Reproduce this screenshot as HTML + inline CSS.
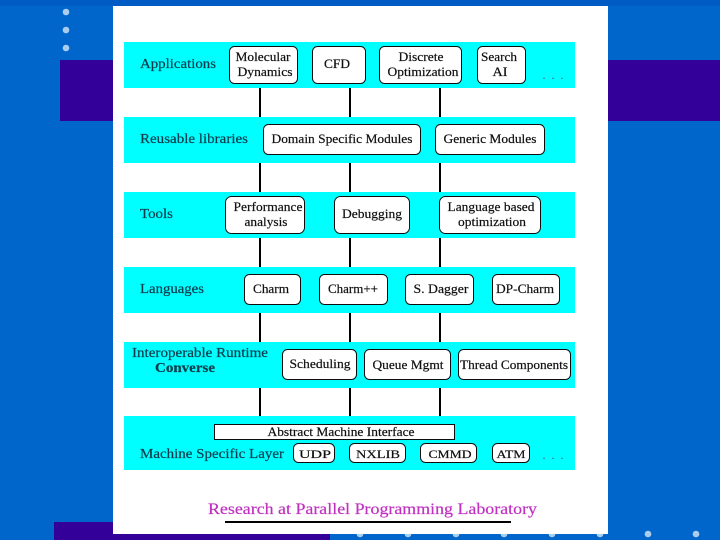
<!DOCTYPE html>
<html><head><meta charset="utf-8"><style>
html,body{margin:0;padding:0;width:720px;height:540px;overflow:hidden;background:#0066cc}
svg{display:block}
text{font-family:"Liberation Serif",serif;font-size:13px;fill:#111;stroke:#111;stroke-width:.2;text-anchor:middle}
.l{text-anchor:start;fill:#0b3b4b;stroke:#0b3b4b;font-size:14px}
.b{fill:#fff;stroke:#111;stroke-width:1}
.band{fill:#00ffff}
.v{stroke:#000;stroke-width:2}
.d{fill:#aaccee}
.g{filter:url(#soft)}
</style></head><body>
<svg width="720" height="540" viewBox="0 0 720 540" xmlns="http://www.w3.org/2000/svg">
<defs><filter id="soft" x="0" y="0" width="100%" height="100%"><feGaussianBlur stdDeviation="0.3"/></filter></defs>
<rect width="720" height="540" fill="#0066cc"/>
<rect width="720" height="6" fill="#005cc4"/>
<rect x="60" y="60" width="660" height="61" fill="#330099"/>
<rect x="54" y="522" width="276" height="18" fill="#330099"/>
<g class="d">
<circle cx="66" cy="12" r="3.300"/><circle cx="66" cy="30" r="3.300"/><circle cx="66" cy="48" r="3.300"/>
<circle cx="360" cy="534" r="3.300"/><circle cx="408" cy="534" r="3.300"/><circle cx="456" cy="534" r="3.300"/><circle cx="504" cy="534" r="3.300"/><circle cx="552" cy="534" r="3.300"/><circle cx="600" cy="534" r="3.300"/><circle cx="648" cy="534" r="3.300"/><circle cx="696" cy="534" r="3.300"/>
</g>
<rect x="113" y="6" width="495" height="528" fill="#fff"/>
<g class="g">
<g class="band">
<rect x="124" y="42" width="451" height="46"/>
<rect x="124" y="117" width="451" height="46"/>
<rect x="124" y="192" width="451" height="46"/>
<rect x="124" y="267" width="451" height="46"/>
<rect x="124" y="342" width="451" height="46"/>
<rect x="124" y="416" width="451" height="54"/>
</g>
<g class="v">
<path d="M260 88V117M350 88V117M440 88V117M260 163V192M350 163V192M440 163V192M260 238V267M350 238V267M440 238V267M260 313V342M350 313V342M440 313V342M260 388V416M350 388V416M440 388V416"/>
</g>
<g class="b">
<rect x="229.500" y="46.500" width="68" height="37" rx="5"/>
<rect x="312.500" y="46.500" width="53" height="37" rx="5"/>
<rect x="379.500" y="46.500" width="82" height="37" rx="5"/>
<rect x="477.500" y="46.500" width="48" height="37" rx="5"/>
<rect x="263.500" y="124.500" width="157" height="30" rx="5"/>
<rect x="435.500" y="124.500" width="109" height="30" rx="5"/>
<rect x="225.500" y="196.500" width="79" height="37" rx="6"/>
<rect x="334.500" y="196.500" width="75" height="37" rx="6"/>
<rect x="439.500" y="196.500" width="101" height="37" rx="6"/>
<rect x="244.500" y="274.500" width="56" height="30" rx="5"/>
<rect x="319.500" y="274.500" width="68" height="30" rx="5"/>
<rect x="405.500" y="274.500" width="68" height="30" rx="5"/>
<rect x="492.500" y="274.500" width="67" height="30" rx="5"/>
<rect x="282.500" y="349.500" width="74" height="30" rx="5"/>
<rect x="364.500" y="349.500" width="86" height="30" rx="5"/>
<rect x="458.500" y="349.500" width="112" height="30" rx="5"/>
<rect x="214.500" y="424.500" width="240" height="15"/>
<rect x="293.500" y="443.500" width="41" height="19" rx="5"/>
<rect x="349.500" y="443.500" width="56" height="19" rx="5"/>
<rect x="420.500" y="443.500" width="56" height="19" rx="5"/>
<rect x="492.500" y="443.500" width="37" height="19" rx="5"/>
</g>
<text class="l" x="140" y="68" textLength="76" lengthAdjust="spacingAndGlyphs">Applications</text>
<text class="l" x="140" y="143" textLength="108" lengthAdjust="spacingAndGlyphs">Reusable libraries</text>
<text class="l" x="140" y="218" textLength="33" lengthAdjust="spacingAndGlyphs">Tools</text>
<text class="l" x="140" y="293" textLength="64" lengthAdjust="spacingAndGlyphs">Languages</text>
<text class="l" x="132" y="357" textLength="136" lengthAdjust="spacingAndGlyphs">Interoperable Runtime</text>
<text class="l" x="155" y="372" textLength="60" lengthAdjust="spacingAndGlyphs" style="font-weight:bold">Converse</text>
<text class="l" x="140" y="458" textLength="144" lengthAdjust="spacingAndGlyphs">Machine Specific Layer</text>
<text x="263" y="61" textLength="55" lengthAdjust="spacingAndGlyphs">Molecular</text>
<text x="265" y="76" textLength="55" lengthAdjust="spacingAndGlyphs">Dynamics</text>
<text x="337" y="68" textLength="26" lengthAdjust="spacingAndGlyphs">CFD</text>
<text x="421" y="61" textLength="45" lengthAdjust="spacingAndGlyphs">Discrete</text>
<text x="423" y="76" textLength="71" lengthAdjust="spacingAndGlyphs">Optimization</text>
<text x="499" y="61" textLength="36" lengthAdjust="spacingAndGlyphs">Search</text>
<text x="500" y="76" textLength="15" lengthAdjust="spacingAndGlyphs">AI</text>
<text x="553" y="79" textLength="21" style="font-size:12px;fill:#456;stroke:none">. . .</text>
<text x="342" y="143" textLength="141" lengthAdjust="spacingAndGlyphs">Domain Specific Modules</text>
<text x="490" y="143" textLength="93" lengthAdjust="spacingAndGlyphs">Generic Modules</text>
<text x="268" y="211" textLength="69" lengthAdjust="spacingAndGlyphs">Performance</text>
<text x="266" y="226" textLength="43" lengthAdjust="spacingAndGlyphs">analysis</text>
<text x="372" y="218" textLength="60" lengthAdjust="spacingAndGlyphs">Debugging</text>
<text x="491" y="211" textLength="87" lengthAdjust="spacingAndGlyphs">Language based</text>
<text x="492" y="226" textLength="68" lengthAdjust="spacingAndGlyphs">optimization</text>
<text x="271" y="293" textLength="36" lengthAdjust="spacingAndGlyphs">Charm</text>
<text x="353" y="293" textLength="50" lengthAdjust="spacingAndGlyphs">Charm++</text>
<text x="441" y="293" textLength="55" lengthAdjust="spacingAndGlyphs">S. Dagger</text>
<text x="525" y="293" textLength="58" lengthAdjust="spacingAndGlyphs">DP-Charm</text>
<text x="320" y="368" textLength="61" lengthAdjust="spacingAndGlyphs">Scheduling</text>
<text x="408" y="369" textLength="71" lengthAdjust="spacingAndGlyphs">Queue Mgmt</text>
<text x="514" y="369" textLength="108" lengthAdjust="spacingAndGlyphs">Thread Components</text>
<text x="341" y="436" textLength="147" lengthAdjust="spacingAndGlyphs">Abstract Machine Interface</text>
<text x="315" y="458" textLength="32" lengthAdjust="spacingAndGlyphs" style="font-size:12px">UDP</text>
<text x="378" y="458" textLength="44" lengthAdjust="spacingAndGlyphs" style="font-size:12px">NXLIB</text>
<text x="450" y="458" textLength="43" lengthAdjust="spacingAndGlyphs" style="font-size:12px">CMMD</text>
<text x="511" y="458" textLength="29" lengthAdjust="spacingAndGlyphs" style="font-size:12px">ATM</text>
<text x="553" y="459" textLength="21" style="font-size:12px;fill:#456;stroke:none">. . .</text>
<text x="208" y="514" textLength="329" lengthAdjust="spacingAndGlyphs" style="text-anchor:start;font-size:16px;fill:#c030c0;stroke:#c030c0">Research at Parallel Programming Laboratory</text>
<rect x="225" y="521" width="286" height="2" fill="#000"/>
</g>
</svg>
</body></html>
